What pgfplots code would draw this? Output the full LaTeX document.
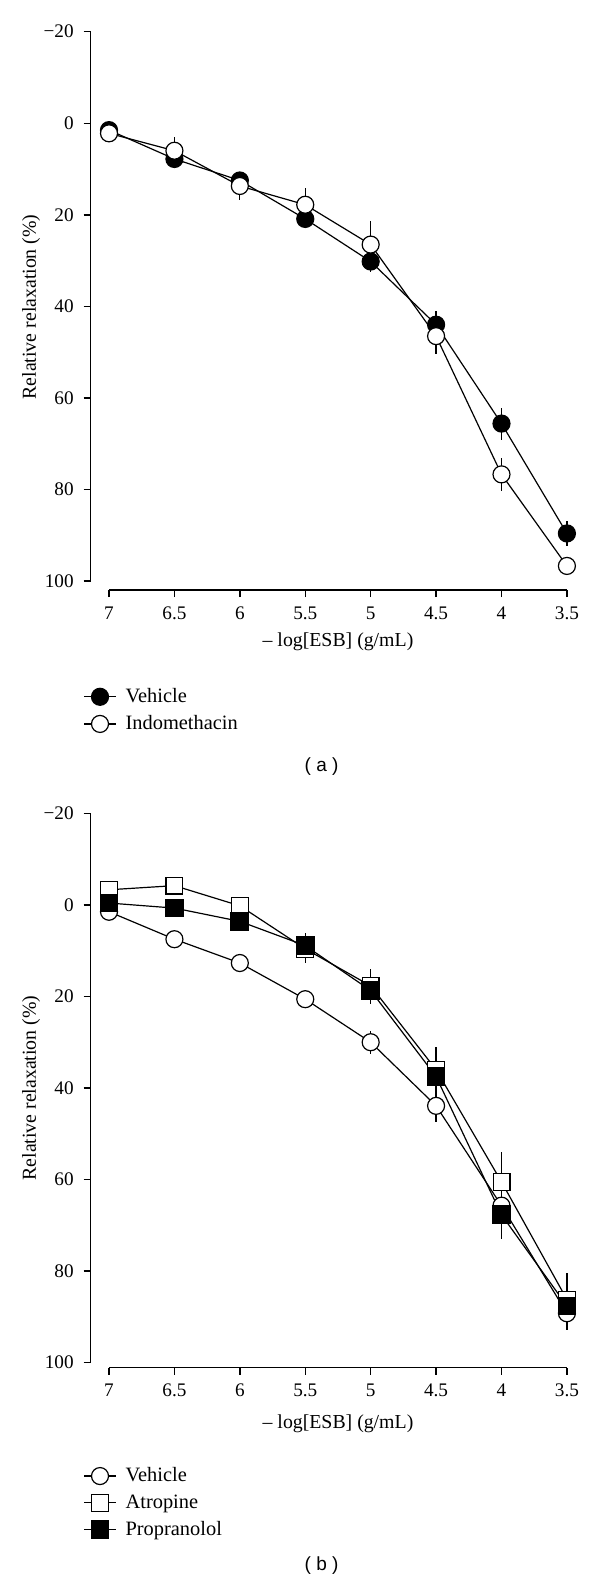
\documentclass[border=0pt]{standalone}
\usepackage{fontspec}
\setmainfont{Liberation Serif}
\newfontfamily\capfont{Liberation Sans}
\usepackage{pgfplots}
\usepackage{pgfplotstable}
\pgfplotsset{compat=1.18}

\pgfplotstableread{
x y e
7 1.5 1.0
6.5 7.8 1.0
6 12.5 1.0
5.5 20.9 1.5
5 30.2 2.3
4.5 44.0 2.9
4 65.6 3.5
3.5 89.6 2.7
}\vehA
\pgfplotstableread{
x y e
7 2.2 1.0
6.5 6.0 2.9
6 13.7 3.1
5.5 17.8 3.6
5 26.5 5.1
4.5 46.5 3.8
4 76.7 3.6
3.5 96.7 1.5
}\indA
\pgfplotstableread{
x y e
7 1.5 1.0
6.5 7.5 1.0
6 12.7 1.0
5.5 20.6 1.0
5 30.0 2.5
4.5 43.9 3.5
4 65.7 3.0
3.5 89.2 3.7
}\vehB
\pgfplotstableread{
x y e
7 -3.3 1.0
6.5 -4.2 1.0
6 0.2 1.5
5.5 9.6 3.0
5 17.7 3.8
4.5 36.0 5.0
4 60.5 6.5
3.5 86.2 5.8
}\atrB
\pgfplotstableread{
x y e
7 -0.4 1.0
6.5 0.7 1.0
6 3.6 1.0
5.5 8.9 2.8
5 18.7 2.9
4.5 37.5 6.5
4 67.7 5.3
3.5 87.6 2.0
}\proB

\pgfplotsset{
  myax/.style={
    scale only axis, width=244.65pt,
    x dir=reverse, y dir=reverse,
    xmin=3.40, xmax=7.14, ymin=-20,
    clip=false,
    axis line style={draw=none},
    tick align=outside,
    major tick length=3.5pt,
    tick style={line width=0.75pt, black},
    xtick={7,6.5,6,5.5,5,4.5,4,3.5},
    xticklabels={7,6.5,6,5.5,5,4.5,4,3.5},
    ytick={-20,0,20,40,60,80,100},
    yticklabels={−20,0,20,40,60,80,100},
    xtick pos=left, ytick pos=left,
    xticklabel pos=left, yticklabel pos=left,
    ticklabel style={font=\fontsize{9.6}{11}\selectfont},
    yticklabel style={xshift=-1.5pt},
    xticklabel style={yshift=-1.2pt},
    label style={font=\fontsize{9.9}{11.5}\selectfont},
    xlabel={– log[ESB] (g/mL)},
    ylabel={Relative relaxation (\%)},
    every axis plot/.append style={line width=0.6pt, black},
    error bars/y dir=both, error bars/y explicit,
    error bars/error mark=none,
    error bars/error bar style={line width=0.6pt, black},
    legend cell align=left,
    legend image code/.code={\draw[mark repeat=2,mark phase=2] plot coordinates {(0pt,0pt)(8pt,0pt)(16pt,0pt)};},
    legend style={draw=none, fill=none, inner sep=0pt, row sep=1pt,
      anchor=north west, font=\fontsize{10.2}{12}\selectfont,
      nodes={inner xsep=4.5pt}},
  },
  fc/.style={mark=*, mark size=4.25pt, mark options={fill=black, draw=black, line width=0.6pt}},
  oc/.style={mark=*, mark size=4.25pt, mark options={fill=white, draw=black, line width=0.6pt}},
  os/.style={mark=square*, mark size=4.2pt, mark options={fill=white, draw=black, line width=0.6pt}},
  fs/.style={mark=square*, mark size=4.4pt, mark options={fill=black, draw=black, line width=0.6pt}},
}

\begin{document}
\begin{tikzpicture}
\useasboundingbox (0,0) rectangle (300pt,-792pt);

\begin{axis}[myax, at={(45.35pt,-15.85pt)}, anchor=north west,
  height=279.15pt, ymax=101.96,
  xlabel style={at={(axis description cs:0.5054,-0.0931)}, anchor=center},
  ylabel style={at={(axis description cs:-0.122,0.507)}, anchor=center, rotate=0},
  legend style={at={(axis description cs:-0.0157,-0.168)}}]
\addplot[fc] table[x=x,y=y,y error=e] {\vehA};
\addlegendentry{Vehicle}
\addplot[oc] table[x=x,y=y,y error=e] {\indA};
\addlegendentry{Indomethacin}
\draw[line width=0.75pt] (axis cs:7.14,-20) -- (axis cs:7.14,100);
\draw[line width=0.75pt] (axis cs:7,101.96) -- (axis cs:3.5,101.96);
\end{axis}
\node[font=\capfont\fontsize{9.5}{11}\selectfont] at (160.8pt,-383.3pt) {( a )};

\begin{axis}[myax, at={(45.35pt,-406.65pt)}, anchor=north west,
  height=277.2pt, ymax=101.1,
  xlabel style={at={(axis description cs:0.5054,-0.1016)}, anchor=center},
  ylabel style={at={(axis description cs:-0.122,0.5045)}, anchor=center, rotate=0},
  legend style={at={(axis description cs:-0.0157,-0.172)}}]
\addplot[oc] table[x=x,y=y,y error=e] {\vehB};
\addlegendentry{Vehicle}
\addplot[os] table[x=x,y=y,y error=e] {\atrB};
\addlegendentry{Atropine}
\addplot[fs] table[x=x,y=y,y error=e] {\proB};
\addlegendentry{Propranolol}
\draw[line width=0.75pt] (axis cs:7.14,-20) -- (axis cs:7.14,100);
\draw[line width=0.75pt] (axis cs:7,101.1) -- (axis cs:3.5,101.1);
\end{axis}
\node[font=\capfont\fontsize{9.5}{11}\selectfont] at (160.8pt,-783pt) {( b )};
\end{tikzpicture}
\end{document}
